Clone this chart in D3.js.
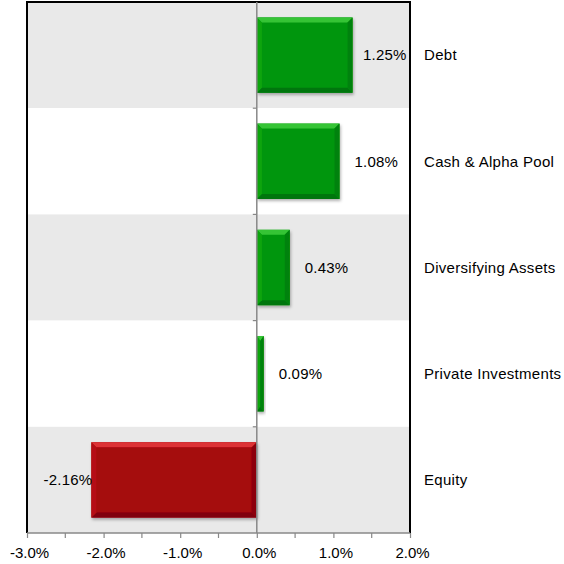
<!DOCTYPE html>
<html>
<head>
<meta charset="utf-8">
<script src="https://cdn.jsdelivr.net/npm/d3@7"></script>
<style>
  html, body { margin: 0; padding: 0; background: #fff; }
  svg { display: block; }
  text { font-family: "Liberation Sans", Arial, sans-serif; fill: #000; }
</style>
</head>
<body>
<svg id="chart" width="564" height="564"></svg>
<script>
// Contribution by asset class (percentage points)
const categories = ["Debt", "Cash & Alpha Pool", "Diversifying Assets", "Private Investments", "Equity"];
const values = [1.25, 1.08, 0.43, 0.09, -2.16];
const majorTicks = [-3, -2, -1, 0, 1, 2];
const minorTicks = [-2.5, -1.5, -0.5, 0.5, 1.5];

const svg = d3.select("#chart");
const plot = { left: 27, right: 410, top: 2, bottom: 533 };
const fontSize = 15;
const pct = (fmt) => d => d3.format(fmt)(d).replace("\u2212", "-") + "%";

const x = d3.scaleLinear().domain([-3, 2]).range([plot.left, plot.right]);
const y = d3.scaleBand().domain(categories).range([plot.top, plot.bottom]).paddingInner(0).paddingOuter(0);
const barH = y.bandwidth() * 0.71;

const defs = svg.append("defs");
const shadow = defs.append("filter").attr("id", "shadow")
  .attr("x", "-20%").attr("y", "-20%").attr("width", "140%").attr("height", "140%");
shadow.append("feDropShadow").attr("dx", 1).attr("dy", 2).attr("stdDeviation", 1.8)
  .attr("flood-color", "#000").attr("flood-opacity", 0.3);

// alternating row bands
svg.append("g").selectAll("rect").data(categories).join("rect")
  .attr("x", plot.left).attr("width", plot.right - plot.left)
  .attr("y", d => y(d)).attr("height", y.bandwidth())
  .attr("fill", (d, i) => i % 2 === 0 ? "#e9e9e9" : "#ffffff");

// bevelled bars
const palette = {
  pos: { base: "#05960a", top: "#34c436", bottom: "#04760a", side: "#0aa50f", sideR: "#048208" },
  neg: { base: "#a5070c", top: "#dc3035", bottom: "#800609", side: "#b51014", sideR: "#8c060a" }
};
const bevel = 5;
const bars = svg.append("g").selectAll("g").data(values).join("g")
  .attr("filter", "url(#shadow)");
bars.each(function(v, i) {
  const g = d3.select(this);
  const c = v >= 0 ? palette.pos : palette.neg;
  const x0 = Math.min(x(0), x(v)), x1 = Math.max(x(0), x(v));
  const y0 = y(categories[i]) + (y.bandwidth() - barH) / 2, y1 = y0 + barH;
  const b = Math.min(bevel, (x1 - x0) / 2);
  g.append("rect").attr("x", x0).attr("y", y0).attr("width", x1 - x0).attr("height", barH).attr("fill", c.base);
  const poly = pts => g.append("polygon").attr("points", pts.map(p => p.join(",")).join(" "));
  poly([[x0, y0], [x1, y0], [x1 - b, y0 + bevel], [x0 + b, y0 + bevel]]).attr("fill", c.top);
  poly([[x0, y1], [x1, y1], [x1 - b, y1 - bevel], [x0 + b, y1 - bevel]]).attr("fill", c.bottom);
  poly([[x0, y0], [x0 + b, y0 + bevel], [x0 + b, y1 - bevel], [x0, y1]]).attr("fill", c.side);
  poly([[x1, y0], [x1 - b, y0 + bevel], [x1 - b, y1 - bevel], [x1, y1]]).attr("fill", c.sideR);
});

// frame: top, left, right
svg.append("path")
  .attr("d", `M${plot.left},${plot.bottom} V${plot.top} H${plot.right} V${plot.bottom}`)
  .attr("fill", "none").attr("stroke", "#000").attr("stroke-width", 2);

// vertical zero axis with category separators
svg.append("line").attr("x1", x(0)).attr("x2", x(0)).attr("y1", plot.top).attr("y2", plot.bottom)
  .attr("stroke", "#888").attr("stroke-width", 1.5);
svg.append("g").selectAll("line").data(categories.slice(1)).join("line")
  .attr("x1", x(0) - 4).attr("x2", x(0)).attr("y1", d => y(d)).attr("y2", d => y(d))
  .attr("stroke", "#888").attr("stroke-width", 1.2);

// horizontal value axis
const xAxis = d3.axisBottom(x).tickValues(majorTicks).tickSize(5).tickPadding(9)
  .tickFormat(pct(".1f"));
const gx = svg.append("g").attr("transform", `translate(0,${plot.bottom})`).call(xAxis);
gx.select(".domain").attr("stroke", "#888").attr("stroke-width", 1.5).attr("d", `M${plot.left},0H${plot.right}`);
gx.selectAll(".tick line").attr("stroke", "#888").attr("stroke-width", 1.2);
gx.selectAll(".tick text").attr("font-size", fontSize).attr("font-family", "Liberation Sans, Arial, sans-serif")
  .attr("fill", "#000").attr("dx", 2);
gx.append("g").selectAll("line").data(minorTicks).join("line")
  .attr("x1", d => x(d)).attr("x2", d => x(d)).attr("y1", 0).attr("y2", 5)
  .attr("stroke", "#888").attr("stroke-width", 1.2);

// value labels
svg.append("g").selectAll("text").data(values).join("text")
  .attr("x", d => d >= 0 ? Math.min(x(d) + 15, plot.right - 47) : x(d) + 1)
  .attr("y", (d, i) => y(categories[i]) + y.bandwidth() / 2)
  .attr("dy", "0.35em")
  .attr("text-anchor", d => d >= 0 ? "start" : "end")
  .attr("font-size", fontSize)
  .attr("letter-spacing", 0.2)
  .text(pct(".2f"));

// category labels
svg.append("g").selectAll("text").data(categories).join("text")
  .attr("x", 424)
  .attr("y", d => y(d) + y.bandwidth() / 2)
  .attr("dy", "0.35em")
  .attr("font-size", fontSize)
  .attr("letter-spacing", 0.3)
  .text(d => d);
</script>
</body>
</html>
